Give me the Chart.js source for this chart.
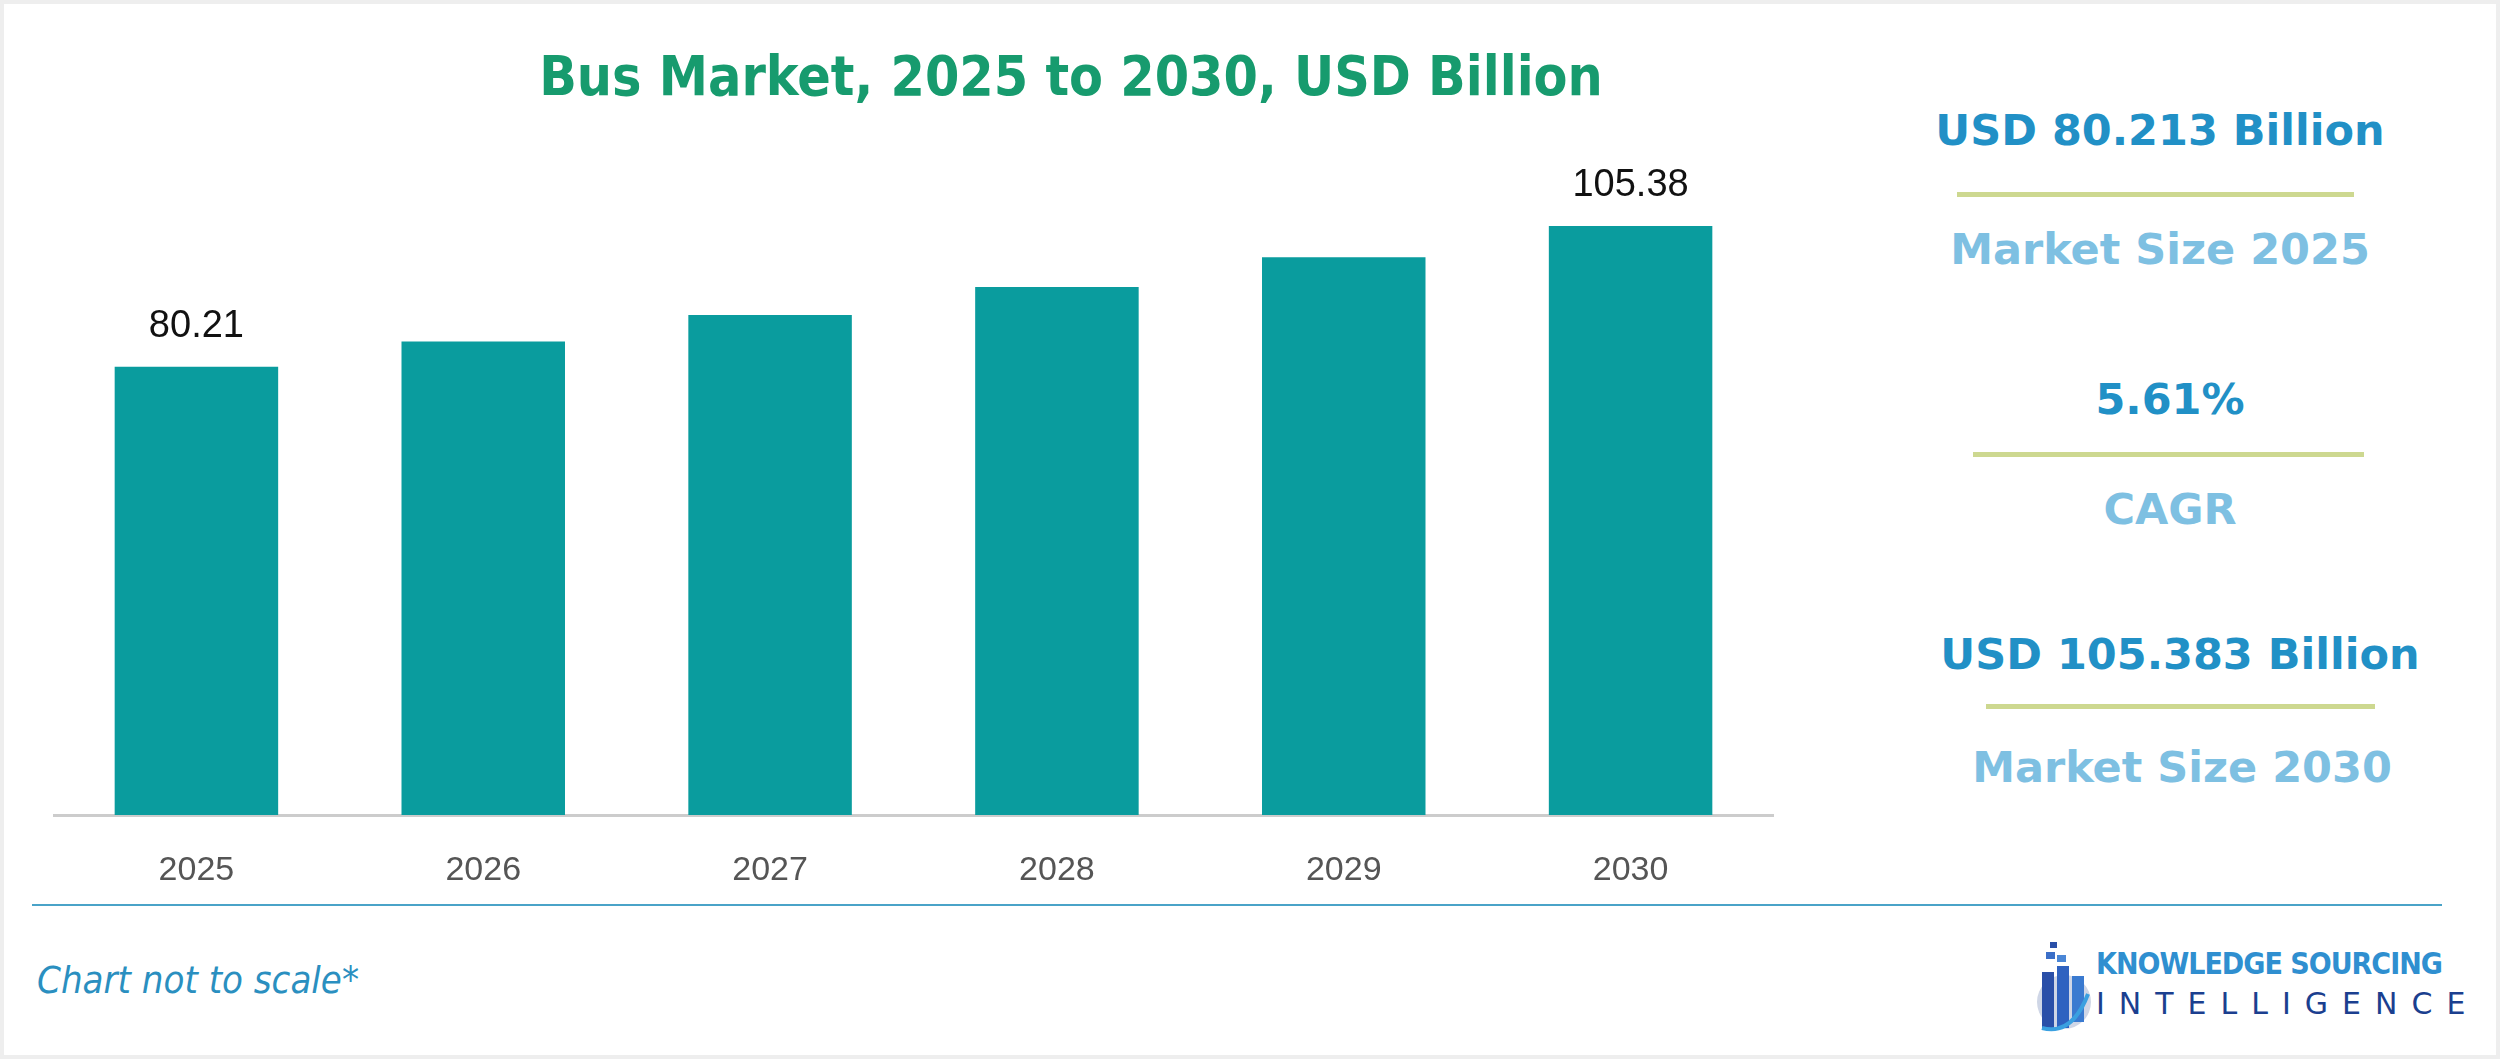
<!DOCTYPE html>
<html>
<head>
<meta charset="utf-8">
<script src="https://cdn.jsdelivr.net/npm/chart.js@4.4.0/dist/chart.umd.min.js"></script>
<style>
  body { margin: 0; width: 2500px; height: 1059px; background: #fff; font-family: "DejaVu Sans", sans-serif; position: relative; overflow: hidden; }
  .frame { position: absolute; left: 0; top: 0; width: 2492px; height: 1051px; border: 4px solid #eeeeee; }
  .title { position: absolute; left: 0; width: 2142px; top: 44px; text-align: center; font-family: "DejaVu Sans Condensed", sans-serif; font-weight: bold; font-size: 55px; color: #179b6e; }
  #wrap { position: absolute; left: 53px; top: 100px; width: 1721px; height: 805px; }
  .stat { position: absolute; text-align: center; font-weight: bold; font-size: 43px; }
  .big { color: #2190c6; }
  .small { color: #7ec0e2; }
  .rule { position: absolute; height: 5px; background: #cdd890; }
  .hr { position: absolute; left: 32px; top: 904px; width: 2410px; height: 2px; background: #4aa3c8; }
  .note { position: absolute; left: 37px; top: 958px; font-family: "DejaVu Sans Condensed", sans-serif; font-style: italic; font-size: 38px; color: #2a8fc0; }
  .logo1 { position: absolute; left: 2096px; top: 946px; font-weight: bold; font-size: 30px; color: #2f8fd0; letter-spacing: -1px; font-family: "DejaVu Sans Condensed", sans-serif; }
  .logo2 { position: absolute; left: 2096px; top: 986px; font-size: 30px; color: #1b3f8f; letter-spacing: 14px; }
  .icon { position: absolute; left: 2036px; top: 928px; width: 56px; height: 110px; }
</style>
</head>
<body>
<div class="frame"></div>
<div class="title">Bus Market, 2025 to 2030, USD Billion</div>
<div id="wrap"><canvas id="chart"></canvas></div>

<div class="stat big" style="left:1860px;width:600px;top:105px;">USD 80.213 Billion</div>
<div class="rule" style="left:1957px;width:397px;top:192px;"></div>
<div class="stat small" style="left:1860px;width:600px;top:224px;">Market Size 2025</div>

<div class="stat big" style="left:1870px;width:600px;top:374px;">5.61%</div>
<div class="rule" style="left:1973px;width:391px;top:452px;"></div>
<div class="stat small" style="left:1870px;width:600px;top:484px;">CAGR</div>

<div class="stat big" style="left:1880px;width:600px;top:629px;">USD 105.383 Billion</div>
<div class="rule" style="left:1986px;width:389px;top:704px;"></div>
<div class="stat small" style="left:1882px;width:600px;top:742px;">Market Size 2030</div>

<div class="hr"></div>
<div class="note">Chart not to scale*</div>
<svg class="icon" viewBox="0 0 56 110">
  <circle cx="28" cy="74" r="27" fill="#cfd6e6"/>
  <rect x="6" y="44" width="12" height="56" fill="#2a4fa8"/>
  <rect x="21" y="38" width="12" height="62" fill="#2f62c0"/>
  <rect x="36" y="48" width="12" height="46" fill="#3a7ad0"/>
  <rect x="10" y="24" width="9" height="7" fill="#3b6fc8"/>
  <rect x="21" y="27" width="9" height="7" fill="#4a86d6"/>
  <rect x="14" y="14" width="7" height="6" fill="#2a4fa8"/>
  <path d="M6 100 Q36 108 52 66" stroke="#3aa0e0" stroke-width="4" fill="none"/>
</svg>
<div class="logo1">KNOWLEDGE SOURCING</div>
<div class="logo2">INTELLIGENCE</div>

<script>
// Chart data
const years = ['2025', '2026', '2027', '2028', '2029', '2030'];
const marketSize = [80.21, 84.71, 89.46, 94.48, 99.78, 105.38];
const labelledBars = ['80.21', null, null, null, null, '105.38'];

const valueLabels = {
    id: 'valueLabels',
    afterDatasetsDraw(chart) {
        const ctx = chart.ctx;
        const meta = chart.getDatasetMeta(0);
        ctx.save();
        ctx.font = '38px "Liberation Sans Narrow", "Liberation Sans", sans-serif';
        ctx.fillStyle = '#111';
        ctx.textAlign = 'center';
        ctx.textBaseline = 'middle';
        meta.data.forEach((bar, i) => {
            if (labelledBars[i]) {
                ctx.fillText(labelledBars[i], bar.x, bar.y - 40);
            }
        });
        ctx.restore();
    }
};

new Chart(document.getElementById('chart'), {
    type: 'bar',
    data: {
        labels: years,
        datasets: [{
            data: marketSize,
            backgroundColor: '#0a9c9e',
            categoryPercentage: 1,
            barPercentage: 0.57
        }]
    },
    options: {
        responsive: true,
        maintainAspectRatio: false,
        animation: false,
        layout: { padding: { top: 80, left: 0, right: 0, bottom: 0 } },
        plugins: { legend: { display: false }, tooltip: { enabled: false } },
        scales: {
            y: { display: false, min: 0, max: 113.6 },
            x: {
                grid: { display: false, drawTicks: false },
                border: { color: '#cccccc', width: 3 },
                ticks: {
                    color: '#555555',
                    padding: 35,
                    font: { size: 34, family: '"Liberation Sans Narrow", "Liberation Sans", sans-serif' }
                },
                afterFit(scale) { scale.height = 90; }
            }
        }
    },
    plugins: [valueLabels]
});
</script>
</body>
</html>
